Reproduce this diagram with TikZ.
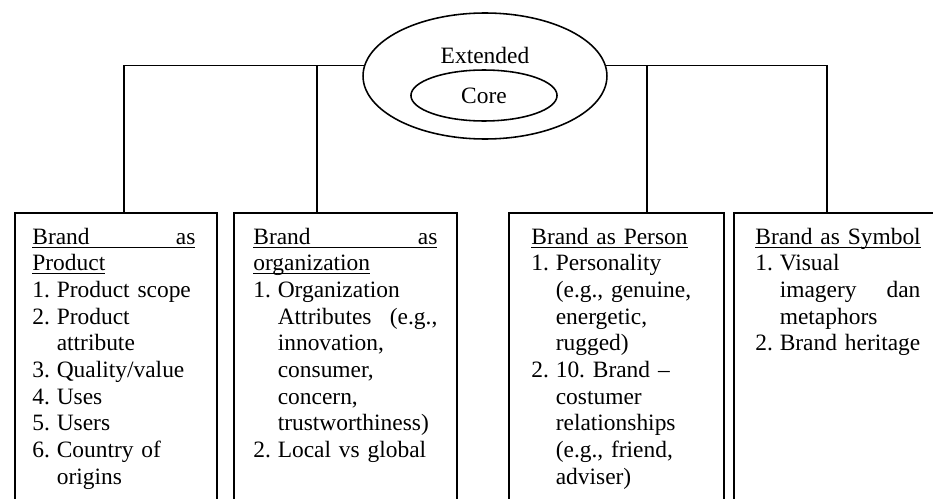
\documentclass[tikz,border=0pt]{standalone}
\usepackage{fontspec}
\setmainfont{Liberation Serif}
\usetikzlibrary{shapes.geometric}
\newlength{\numw}
\setlength{\numw}{12.5pt}
\newsavebox{\ulbox}
\newcommand{\uln}[1]{\leavevmode\sbox{\ulbox}{#1}\rlap{\rule[-1.8pt]{\wd\ulbox}{0.5pt}}\usebox{\ulbox}}
\newcommand{\nm}[1]{\makebox[\numw][l]{#1}}
\newcommand{\ct}{\hspace*{\numw}}

\begin{document}
\begin{tikzpicture}[
  x=0.512pt, y=-0.512pt,
  font=\fontsize{12pt}{13.67pt}\selectfont,
  conn/.style={line width=0.8pt},
  ring/.style={draw, ellipse, line width=0.8pt, inner sep=0pt},
  box/.style={draw, line width=0.8pt, anchor=north west, inner sep=0pt,
              minimum height=158pt},
  txt/.style={anchor=base west, align=left, inner sep=0pt},
]
\useasboundingbox (0,0) rectangle (933,499);

% ---------- centre ----------
\node[ring, minimum width=124.9pt, minimum height=64.5pt] (ext) at (485,76) {};
\node (lab) at (485,55) {Extended};
\node[ring, minimum width=74.8pt, minimum height=26.1pt] (core) at (484,95.5) {Core};

% ---------- boxes ----------
\node[box, minimum width=103.4pt] (b1) at (14,212) {};
\node[box, minimum width=114.2pt] (b2) at (233,212) {};
\node[box, minimum width=110.1pt] (b3) at (508,212) {};
\node[box, minimum width=108.5pt] (b4) at (733,212) {};

% ---------- box texts ----------
\node[txt, text width=83.5pt] (t1) at (32,244)
  {\uln{\makebox[83.5pt][s]{Brand\hfill as}}\\
   \uln{Product}\\
   \nm{1.}Product scope\\
   \nm{2.}Product\\
   \ct attribute\\
   \nm{3.}Quality/value\\
   \nm{4.}Uses\\
   \nm{5.}Users\\
   \nm{6.}Country of\\
   \ct origins};
\node[txt, text width=94.2pt] (t2) at (253,244)
  {\uln{\makebox[94.2pt][s]{Brand\hfill as}}\\
   \uln{organization}\\
   \nm{1.}Organization\\
   \ct\makebox[81.7pt][s]{Attributes\hfill(e.g.,}\\
   \ct innovation,\\
   \ct consumer,\\
   \ct concern,\\
   \ct trustworthiness)\\
   \nm{2.}Local vs global};
\node[txt, text width=87pt] (t3) at (531,244)
  {\uln{Brand as Person}\\
   \nm{1.}Personality\\
   \ct(e.g., genuine,\\
   \ct energetic,\\
   \ct rugged)\\
   \nm{2.}10.\ Brand –\\
   \ct costumer\\
   \ct relationships\\
   \ct(e.g., friend,\\
   \ct adviser)};
\node[txt, text width=84.5pt] (t4) at (755,244)
  {\uln{Brand as Symbol}\\
   \nm{1.}Visual\\
   \ct\makebox[72pt][s]{imagery\hfill dan}\\
   \ct metaphors\\
   \nm{2.}Brand heritage};

% ---------- connectors ----------
\coordinate (j1) at (124,65.6);
\coordinate (j2) at (317,65.6);
\coordinate (j3) at (647,65.6);
\coordinate (j4) at (827,65.6);
\draw[conn] (ext.175) -| (j1 |- b1.north);
\draw[conn] (ext.5) -| (j4 |- b4.north);
\draw[conn] (j2) -- (j2 |- b2.north);
\draw[conn] (j3) -- (j3 |- b3.north);

\end{tikzpicture}
\end{document}
